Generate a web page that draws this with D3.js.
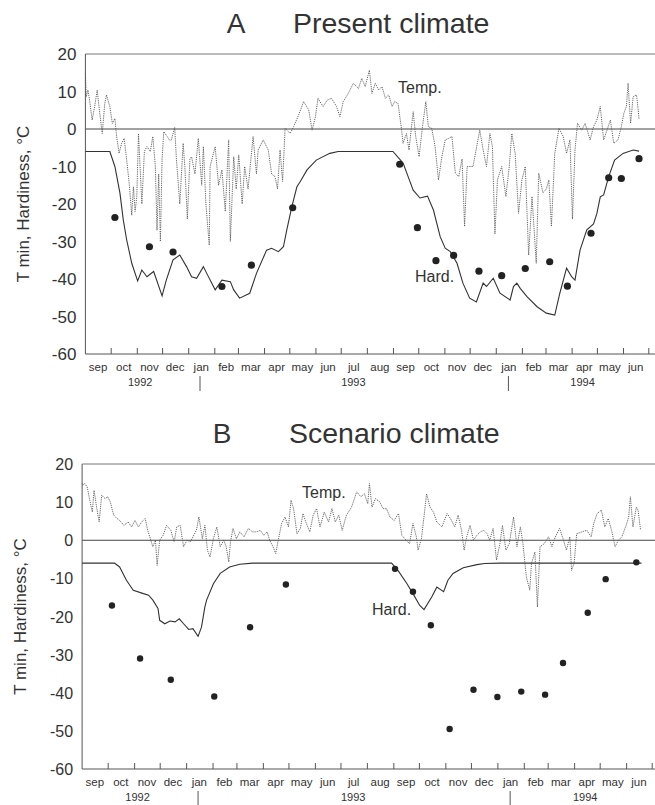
<!DOCTYPE html>
<html>
<head>
<meta charset="utf-8">
<script src="https://cdn.jsdelivr.net/npm/d3@7"></script>
<style>
  body { margin: 0; background: #fff; }
  svg text { font-family: "Liberation Sans", Arial, sans-serif; fill: #333; }
</style>
</head>
<body>
<div id="chart"></div>
<script>
// day numbers count from 1 Sep 1992
const yTicks = [20, 10, 0, -10, -20, -30, -40, -50, -60];
const monthNames = ["sep","oct","nov","dec","jan","feb","mar","apr","may","jun","jul","aug",
  "sep","oct","nov","dec","jan","feb","mar","apr","may","jun"];
const yearLabels = ["1992", "1993", "1994"];
const yearLabelDays = [65, 318, 590];
const yearBreakDays = [136, 502];

// Panel A, present climate
const tempA = [[0,14.8],[1,8.6],[3,10.4],[5,7.7],[8,2.4],[11,6],[14,10.4],[17,4.2],[20,-1.2],[23,6.8],[25,9.1],[29,6],[32,1.5],[35,2.8],[37,-2],[40,-6.5],[43,-3.8],[46,-2.5],[49,-8.3],[52,-14.5],[55,-23],[57,-15.4],[59,-22],[61,-18],[63,-1.2],[67,-20],[70,-6],[73,-4.7],[77,-6],[80,-2],[83,-10],[85,-27],[87,-12],[89,-30],[91,-8],[93,-0.7],[97,-2],[100,-3],[102,-2.9],[106,0.4],[108,-8],[110,-14],[112,-20],[116,-3.8],[118,-10],[121,-24],[124,-8],[126,-7.4],[130,-12],[134,-2.5],[138,-15],[140,-4.7],[143,-20],[147,-31],[148,-10],[154,-4.7],[158,-15],[162,-10.9],[166,-22],[170,-2.9],[172,-30],[176,-7.4],[179,-16],[182,-6.9],[186,-20],[189,-10],[193,-16],[199,-2],[203,-12],[205,-5.6],[211,-2.9],[217,-5.6],[221,-12],[225,-12.7],[228,-16],[231,-5.6],[234,-14],[237,0.2],[243,-1.2],[247,0.6],[253,3.7],[259,7.3],[265,5.1],[269,-0.3],[273,3.3],[276,8.2],[282,6],[287,7.7],[292,8.2],[298,6],[302,3.3],[306,7.3],[312,9.5],[318,12.2],[324,10.8],[328,13.5],[332,11.3],[337,15.7],[340,9.5],[344,12.2],[348,10.4],[352,11.3],[356,8.2],[360,9.1],[364,6],[367,7.3],[371,6.8],[375,0.2],[377,-3.8],[381,-1.2],[384,-5.6],[389,4.6],[392,-2],[396,-7.4],[400,0.6],[404,7.3],[407,0.6],[411,0.2],[415,-4.7],[419,-13.6],[423,-7.4],[427,-2.9],[431,-2.5],[435,-2],[439,-11.8],[443,-12.7],[447,-8],[450,-26],[453,-10],[460,-10],[468,-0.3],[472,-5.6],[476,-10],[480,-1.2],[483,-4.7],[486,-28],[489,-13.6],[494,-10],[499,-18],[503,-10],[506,-1.2],[510,-6.5],[514,-22.5],[518,-13.6],[522,-10],[526,-33.6],[530,-18],[535,-35.8],[538,-11.8],[543,-17],[547,-16],[550,-13.6],[553,-26],[557,-6.5],[562,0.2],[567,-2],[571,-6.5],[575,-2.9],[578,-24],[581,-5.6],[584,1.5],[589,-0.3],[593,1.5],[599,-2.9],[603,0.6],[607,2.4],[611,6],[615,-2.9],[619,-0.3],[623,2.4],[627,-3.8],[632,-2.9],[636,0.6],[639,4.2],[642,6],[644,12.2],[647,1.5],[650,8.6],[654,9.1],[656,5.1],[657,2.8]];

const hardA = [[0,-6],[29,-6],[35,-10],[41,-17.1],[45,-24.3],[49,-29.6],[55,-35.8],[62,-40.5],[67,-37.6],[73,-39.4],[81,-38],[91,-44.5],[96,-40.3],[104,-34.9],[112,-33.6],[120,-36.7],[126,-39.4],[132,-39.8],[140,-36.7],[144,-38.5],[154,-42.9],[162,-40.3],[172,-40.7],[176,-42.9],[183,-45.1],[195,-43.8],[203,-38.5],[215,-32.3],[221,-31.8],[229,-32.7],[235,-31.4],[239,-26.9],[245,-20.7],[251,-15.4],[255,-14],[263,-10.9],[274,-8.3],[290,-6.5],[300,-6],[365,-6],[377,-9.1],[383,-12.7],[389,-16.3],[397,-18.4],[406,-17.9],[413,-21.6],[421,-28.7],[427,-31.8],[433,-32.7],[441,-35.8],[448,-41.1],[456,-45.1],[464,-46.1],[472,-41.1],[476,-42],[484,-39.8],[492,-43.8],[504,-45.6],[508,-42],[512,-41.1],[516,-42.5],[524,-44.7],[536,-47.4],[547,-49.1],[557,-49.6],[563,-43.8],[571,-37.1],[577,-39.4],[581,-40.3],[587,-32.3],[595,-26.9],[603,-25.3],[607,-22.5],[611,-18.1],[615,-17.6],[621,-12.7],[628,-8.3],[638,-6.5],[650,-5.6],[657,-5.9]];

const dotsA = [[35,-23.6],[76,-31.4],[104,-32.8],[162,-42],[197,-36.3],[246,-21],[373,-9.4],[394,-26.3],[416,-35.1],[437,-33.7],[467,-37.9],[494,-39.1],[522,-37.2],[551,-35.4],[572,-41.9],[600,-27.8],[621,-13],[636,-13.2],[657,-7.9]];

// Panel B, scenario climate
const tempB = [[0,14.9],[1,14.4],[3,14.9],[6,14],[9,10.5],[12,7.4],[14,13.1],[17,8.7],[20,4.8],[23,11.8],[27,10.9],[30,11.4],[33,10.1],[37,6.6],[41,5.7],[44,5.2],[49,3.9],[54,4.8],[58,3.5],[62,5.2],[66,3.5],[70,4.8],[74,5.7],[77,2.6],[80,0.4],[83,-1.7],[86,0],[88,-6.6],[91,0],[95,1.3],[99,3.9],[104,2.6],[108,-0.4],[111,3.5],[115,3.9],[119,-1.7],[123,0],[127,-0.4],[130,0.9],[134,2.6],[137,6.1],[141,0.4],[144,3.9],[147,-2.6],[150,-4.4],[154,0.4],[158,3.5],[162,-1.7],[166,0],[169,-1.7],[172,-5.7],[174,-0.4],[177,3.1],[181,0.4],[185,2.2],[190,0.9],[195,3.1],[200,2.2],[205,2.2],[209,2.6],[213,1.3],[217,2.2],[220,0],[224,-1.7],[227,-3.5],[230,0],[234,4.4],[238,6.1],[242,3.5],[245,10.5],[248,8.3],[252,1.7],[256,3.1],[259,7],[263,4.4],[267,2.2],[271,6.6],[275,8.3],[279,3.5],[284,7.4],[289,4.8],[293,8.3],[297,4.8],[301,6.6],[305,2.6],[310,6.6],[316,8.7],[322,12.7],[327,11.4],[331,12.2],[335,9.6],[337,14.9],[340,8.7],[344,10.9],[349,10.1],[353,8.3],[357,8.3],[361,6.1],[366,5.2],[371,7],[375,1.3],[380,0],[384,-0.9],[388,4.4],[392,0.9],[394,-2.6],[398,0.4],[404,12.2],[408,8.7],[412,7.4],[416,4.8],[422,3.5],[428,7],[432,5.7],[437,3.5],[441,6.6],[445,2.6],[448,-2.6],[451,0.9],[455,3.9],[459,0],[463,1.3],[467,2.2],[471,2.6],[475,1.7],[478,0],[482,3.1],[486,-5.2],[490,-0.9],[493,3.9],[497,-2.6],[501,-0.9],[506,6.1],[510,-1.7],[514,3.5],[517,-0.9],[521,-9.6],[525,-13.1],[527,-6.1],[531,-3.1],[534,-17.5],[537,-1.7],[542,-0.9],[547,0.9],[551,-1.7],[555,0.9],[560,3.1],[564,0.4],[568,-2.6],[572,0.9],[574,-7.9],[577,-6.1],[580,1.7],[586,2.2],[592,2.6],[597,0.9],[600,4.4],[604,7],[609,7.9],[613,3.5],[617,5.7],[621,2.6],[625,-1.7],[629,0],[633,0.9],[638,3.9],[641,6.1],[643,11.4],[646,3.5],[650,8.7],[652,7.9],[655,2.6]];

const hardB = [[0,-6],[38,-6],[44,-7],[52,-10.5],[60,-13.1],[72,-14],[78,-14.4],[83,-15.7],[89,-17.9],[91,-21],[97,-21.9],[103,-21.2],[109,-21.4],[114,-20.6],[119,-21.9],[125,-23.4],[130,-23.2],[136,-25.2],[140,-22.8],[144,-17.5],[146,-15.7],[154,-11.4],[162,-8.7],[173,-7],[185,-6.3],[200,-6],[363,-6],[371,-8.1],[381,-11.4],[388,-14],[396,-17.1],[401,-18.2],[410,-14.9],[416,-12.3],[424,-13.5],[429,-10.5],[435,-8.7],[447,-7.2],[463,-6.4],[472,-6.1],[490,-6],[656,-6]];

const dotsB = [[35,-17.1],[68,-31],[104,-36.6],[155,-41],[197,-22.8],[239,-11.6],[367,-7.5],[388,-13.5],[409,-22.3],[431,-49.5],[459,-39.2],[487,-41.1],[515,-39.7],[543,-40.5],[564,-32.2],[593,-19],[614,-10.2],[650,-5.8]];

const panels = [
  { letter: "A", title: "Present climate", temp: tempA, hard: hardA, dots: dotsA,
    x0: 85.4, x1: 648.3, yTop: 54, yBottom: 354, titleY: 33, letterX: 236, titleX: 293,
    tempLabel: [398, 93], hardLabel: [415, 282], r: 3.6, fs: 17 },
  { letter: "B", title: "Scenario climate", temp: tempB, hard: hardB, dots: dotsB,
    x0: 82.1, x1: 651.7, yTop: 464, yBottom: 769, titleY: 443, letterX: 222, titleX: 289,
    tempLabel: [302, 498], hardLabel: [372, 615], r: 3.2, fs: 16 }
];

const W = 655, H = 805;
const start = new Date(1992, 8, 1);
const end = new Date(1994, 6, 1);
const toDate = d => d3.timeDay.offset(start, d);

const svg = d3.select("#chart").append("svg")
  .attr("width", W)
  .attr("height", H);

panels.forEach(p => {
  const x = d3.scaleTime().domain([start, end]).range([p.x0, p.x1]);
  const y = d3.scaleLinear().domain([-60, 20]).range([p.yBottom, p.yTop]);
  const g = svg.append("g");

  // title
  g.append("text").attr("x", p.letterX).attr("y", p.titleY)
    .attr("text-anchor", "middle").style("font-size", "28px").text(p.letter);
  g.append("text").attr("x", p.titleX).attr("y", p.titleY)
    .style("font-size", "28.5px").text(p.title);

  // frame: top line, zero line, left axis
  g.append("line").attr("x1", p.x0).attr("x2", W).attr("y1", y(20)).attr("y2", y(20))
    .attr("stroke", "#777").attr("stroke-width", 1);
  g.append("line").attr("x1", p.x0).attr("x2", W).attr("y1", y(0)).attr("y2", y(0))
    .attr("stroke", "#444").attr("stroke-width", 1);
  g.append("line").attr("x1", p.x0).attr("x2", p.x0).attr("y1", y(20)).attr("y2", y(-60))
    .attr("stroke", "#555").attr("stroke-width", 1);
  g.append("line").attr("x1", p.x0).attr("x2", W).attr("y1", y(-60)).attr("y2", y(-60))
    .attr("stroke", "#555").attr("stroke-width", 1);

  // y tick labels
  g.selectAll(".ylab").data(yTicks).enter().append("text")
    .attr("x", p.x0 - 9).attr("y", d => y(d) + 6)
    .attr("text-anchor", "end").style("font-size", p.fs + "px")
    .text(d => d);

  // month ticks (inward)
  const tickDates = d3.timeMonth.range(new Date(1992, 9, 1), new Date(1994, 6, 2));
  const xAxis = g.append("g").attr("transform", `translate(0,${y(-60)})`)
    .call(d3.axisBottom(x).tickValues(tickDates).tickSizeInner(-6).tickSizeOuter(0).tickFormat(""));
  xAxis.select(".domain").remove();
  xAxis.selectAll(".tick line").attr("stroke", "#555");

  // month labels centred in each month
  const monthStarts = d3.timeMonth.range(start, end);
  g.selectAll(".mlab").data(monthStarts).enter().append("text")
    .attr("x", d => (x(d) + x(d3.timeMonth.offset(d, 1))) / 2)
    .attr("y", y(-60) + 17)
    .attr("text-anchor", "middle").style("font-size", "11.5px")
    .text((d, i) => monthNames[i]);

  // year labels and separators
  g.selectAll(".ylabel").data(yearLabels).enter().append("text")
    .attr("x", (d, i) => x(toDate(yearLabelDays[i])))
    .attr("y", y(-60) + 32)
    .attr("text-anchor", "middle").style("font-size", "11px")
    .text(d => d);
  g.selectAll(".ybreak").data(yearBreakDays).enter().append("line")
    .attr("x1", d => x(toDate(d))).attr("x2", d => x(toDate(d)))
    .attr("y1", y(-60) + 22).attr("y2", y(-60) + 37)
    .attr("stroke", "#555");

  // y axis title
  const yMid = (y(20) + y(-60)) / 2;
  g.append("text")
    .attr("transform", `translate(${p.x0 - 56},${yMid}) rotate(-90)`)
    .attr("text-anchor", "middle").style("font-size", "17px")
    .text("T min, Hardiness, °C");

  const line = d3.line().x(d => x(toDate(d[0]))).y(d => y(d[1]));

  // temperature, dotted
  g.append("path").datum(p.temp).attr("d", line)
    .attr("fill", "none").attr("stroke", "#555").attr("stroke-width", 0.9)
    .attr("stroke-dasharray", "1.2,1");

  // hardiness
  g.append("path").datum(p.hard).attr("d", line)
    .attr("fill", "none").attr("stroke", "#333").attr("stroke-width", 1.1);

  // observed hardiness
  g.selectAll(".dot").data(p.dots).enter().append("circle")
    .attr("cx", d => x(toDate(d[0]))).attr("cy", d => y(d[1]))
    .attr("r", p.r).attr("fill", "#222");

  g.append("text").attr("x", p.tempLabel[0]).attr("y", p.tempLabel[1])
    .style("font-size", "16px").text("Temp.");
  g.append("text").attr("x", p.hardLabel[0]).attr("y", p.hardLabel[1])
    .style("font-size", "16px").text("Hard.");
});
</script>
</body>
</html>
